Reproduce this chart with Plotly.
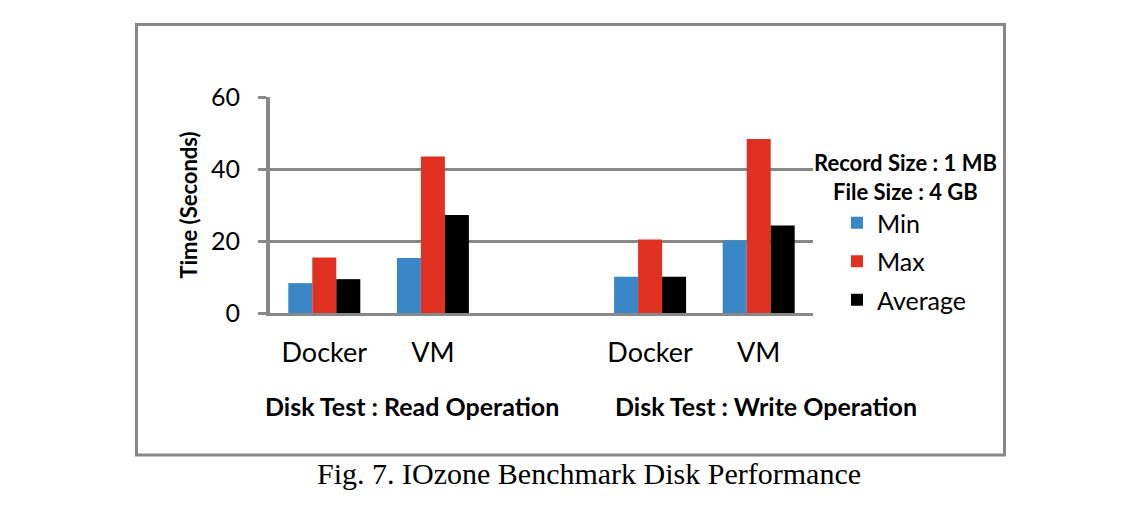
import plotly.graph_objects as go

# ---- data ----
categories = ["Read-Docker", "Read-VM", "gap", "Write-Docker", "Write-VM"]
tick_labels = ["Docker", "VM", "", "Docker", "VM"]
bar_categories = ["Read-Docker", "Read-VM", "Write-Docker", "Write-VM"]
min_vals = [8.3, 15.3, 10.1, 20.2]
max_vals = [15.4, 43.5, 20.4, 48.3]
avg_vals = [9.4, 27.2, 10.1, 24.3]
series_names = ["Min", "Max", "Average"]
series_colors = ["#3A87C8", "#E03022", "#000000"]
group_labels = ["Disk Test : Read Operation", "Disk Test : Write Operation"]
legend_header = ["Record Size : 1 MB", "File Size : 4 GB"]
y_title = "Time (Seconds)"
caption = "Fig. 7. IOzone Benchmark Disk Performance"

# ---- layout helpers (pixel -> paper) ----
W, H = 1144, 506
PL, PR, PT, PB = 270, 813, 97, 313


def px(x):
    return (x - PL) / (PR - PL)


def py(y):
    return (PB - y) / (PB - PT)


GRID = "#888888"
FONT = "Lato"

fig = go.Figure()
for name, vals, col in zip(series_names, [min_vals, max_vals, avg_vals], series_colors):
    fig.add_trace(go.Bar(
        x=bar_categories, y=vals, name=name, legendgroup=name,
        marker=dict(color=col, line=dict(width=0)),
    ))

fig.update_layout(
    width=W, height=H,
    margin=dict(l=PL, r=W - PR, t=PT, b=H - PB, autoexpand=False),
    paper_bgcolor="white", plot_bgcolor="white",
    barmode="group", bargap=0.337, bargroupgap=0,
    font=dict(family=FONT, color="#000000"),
    showlegend=True,
    legend=dict(
        x=px(837), y=py(200), xanchor="left", yanchor="top",
        font=dict(family=FONT, size=25, color="#000000"),
        tracegroupgap=3, bgcolor="rgba(0,0,0,0)", borderwidth=0,
    ),
    xaxis=dict(
        type="category", categoryorder="array", categoryarray=categories,
        tickvals=categories, ticktext=tick_labels, range=[-0.5, 4.5],
        showline=True, linecolor=GRID, linewidth=3, ticks="",
        showgrid=False, zeroline=False,
        tickfont=dict(family=FONT, size=27, color="#000000"),
        ticklabelstandoff=14,
    ),
    yaxis=dict(
        range=[0, 60], tickvals=[0, 20, 40, 60],
        showgrid=True, gridcolor=GRID, gridwidth=3,
        showline=True, linecolor=GRID, linewidth=4,
        ticks="outside", ticklen=8, tickwidth=3, tickcolor=GRID,
        zeroline=False,
        tickfont=dict(family=FONT, size=25, color="#000000"),
        ticklabelstandoff=13,
        title=dict(text="<b>" + y_title + "</b>", standoff=8,
                   font=dict(family=FONT, size=22, color="#000000")),
    ),
)

# outer frame
fig.add_shape(type="rect", xref="paper", yref="paper",
              x0=px(136.5), x1=px(1004.5), y0=py(455), y1=py(24.5),
              line=dict(color=GRID, width=3), fillcolor="rgba(0,0,0,0)", layer="below")

# legend header
for txt, yy in zip(legend_header, [162, 191]):
    fig.add_annotation(text="<b>" + txt + "</b>", xref="paper", yref="paper",
                       x=px(905), y=py(yy), xanchor="center", yanchor="middle",
                       showarrow=False, font=dict(family=FONT, size=22, color="#000000"))

# group labels
for txt, xx in zip(group_labels, [412, 766]):
    fig.add_annotation(text="<b>" + txt + "</b>", xref="paper", yref="paper",
                       x=px(xx), y=py(406), xanchor="center", yanchor="middle",
                       showarrow=False, font=dict(family=FONT, size=25, color="#000000"))

# caption
fig.add_annotation(text=caption, xref="paper", yref="paper",
                   x=px(589), y=py(473), xanchor="center", yanchor="middle",
                   showarrow=False,
                   font=dict(family="Liberation Serif", size=30, color="#000000"))

fig.write_html("out.html")
